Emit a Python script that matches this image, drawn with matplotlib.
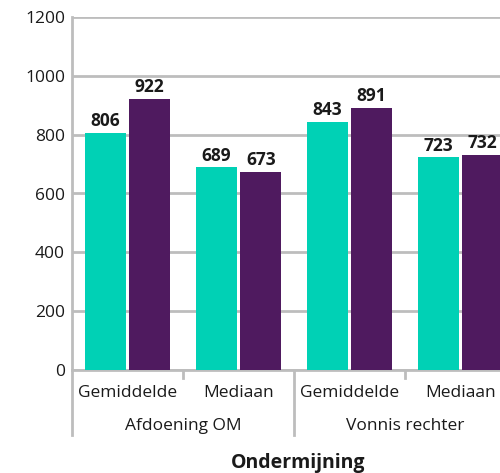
import matplotlib
matplotlib.use("Agg")
import matplotlib.pyplot as plt
import matplotlib.transforms as mtransforms

plt.rcParams['font.family'] = ['Open Sans', 'DejaVu Sans']

groups = ["Afdoening OM", "Vonnis rechter"]
categories = ["Gemiddelde", "Mediaan", "Gemiddelde", "Mediaan"]
series_a = [806, 689, 843, 723]
series_b = [922, 673, 891, 732]
yticks = [0, 200, 400, 600, 800, 1000, 1200]
xlabel = "Ondermijning"

teal = "#00D1B5"
purple = "#4F1A5F"
grid = "#bdbdbd"
txt = "#1a1a1a"

W, H = 500, 473
fig = plt.figure(figsize=(W / 100, H / 100), dpi=100)
left, right, top, bottom = 72, 516, 17, 370
ax = fig.add_axes([left / W, (H - bottom) / H, (right - left) / W, (bottom - top) / H])

x = list(range(len(categories)))
bw = 0.37
off = 0.2
ba = ax.bar([i - off for i in x], series_a, width=bw, color=teal, zorder=3)
bb = ax.bar([i + off for i in x], series_b, width=bw, color=purple, zorder=3)
for bars, vals in ((ba, series_a), (bb, series_b)):
    for r, v in zip(bars, vals):
        ax.annotate(str(v), (r.get_x() + r.get_width() / 2, v), xytext=(0, 2),
                    textcoords="offset points", ha="center", va="bottom",
                    fontsize=12.5, fontweight="bold", color=txt)

ax.set_xlim(-0.5, len(categories) - 0.5)
ax.set_ylim(0, 1200)
ax.set_yticks(yticks)
ax.set_yticklabels([str(t) for t in yticks], fontsize=12.5, color=txt)
ax.tick_params(axis="y", length=0, pad=5)
ax.set_xticks([])
for s in ("top", "right", "bottom"):
    ax.spines[s].set_visible(False)
ax.spines["left"].set_color(grid)
ax.spines["left"].set_linewidth(2)
ax.yaxis.grid(True, color=grid, linewidth=2, zorder=0)
ax.set_axisbelow(True)

axh = bottom - top
trans = mtransforms.blended_transform_factory(ax.transData, ax.transAxes)
ax.plot([-0.5, len(categories) - 0.5], [0, 0], transform=trans, color=grid, lw=2, clip_on=False, zorder=2)
for xs in (0.5, 2.5):
    ax.plot([xs, xs], [0, -8 / axh], transform=trans, color=grid, lw=2, clip_on=False)
for xs in (-0.5, 1.5):
    ax.plot([xs, xs], [0, -65 / axh], transform=trans, color=grid, lw=2, clip_on=False)

for i, c in enumerate(categories):
    ax.text(i, -23 / axh, c, transform=trans, ha="center", va="center", fontsize=12.5, color=txt)
for g, name in enumerate(groups):
    ax.text(2 * g + 0.5, -56 / axh, name, transform=trans, ha="center", va="center", fontsize=12.5, color=txt)

fig.text(298 / W, (H - 463) / H, xlabel, ha="center", va="center",
         fontsize=14, fontweight="bold", color=txt)

fig.savefig("out.png", dpi=100)
